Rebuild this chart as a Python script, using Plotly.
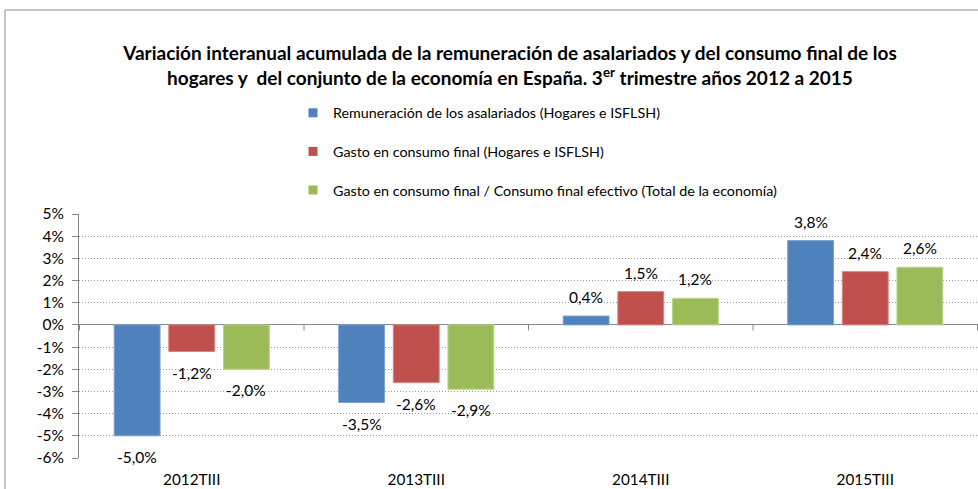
import plotly.graph_objects as go

# Quarters compared (third quarter of each year)
categories = ["2012TIII", "2013TIII", "2014TIII", "2015TIII"]

# Year-on-year cumulative change, in percent
remuneracion = [-5.0, -3.5, 0.4, 3.8]
gasto_hogares = [-1.2, -2.6, 1.5, 2.4]
gasto_total = [-2.0, -2.9, 1.2, 2.6]

series_names = [
    "Remuneración de los asalariados (Hogares e ISFLSH)",
    "Gasto en consumo final (Hogares e ISFLSH)",
    "Gasto en consumo final / Consumo final efectivo (Total de la economía)",
]
series_values = [remuneracion, gasto_hogares, gasto_total]
series_colors = ["#4F81BD", "#C0504D", "#9BBB59"]
edge_colors = ["#7EA3D1", "#D98381", "#BDD48F"]

y_ticks = list(range(-6, 6))
y_tick_labels = [f"{t}%" for t in y_ticks]

FONT = "Lato, 'Open Sans', sans-serif"
W, H = 978, 489
M_L, M_R, M_T, M_B = 79, 0, 214, 31
BARGAP, BARGROUPGAP = 0.27, 0.16
plot_w = W - M_L - M_R
plot_h = H - M_T - M_B

fig = go.Figure()
for name, vals, col, edge in zip(series_names, series_values, series_colors, edge_colors):
    fig.add_trace(go.Bar(
        x=categories, y=vals, name=name, showlegend=False,
        marker=dict(color=col, line=dict(color=edge, width=1)),
    ))
# Legend entries with small square keys
for name, col in zip(series_names, series_colors):
    fig.add_trace(go.Scatter(
        x=[None], y=[None], mode="markers", name=name, legendgroup=name,
        marker=dict(symbol="square", size=9, color=col),
    ))

# Value labels beside the end of each bar
slot = plot_w / len(categories) * (1 - BARGAP) / len(series_values)
annotations = []
for j, vals in enumerate(series_values):
    for cat, v in zip(categories, vals):
        annotations.append(dict(
            x=cat, y=v, xref="x", yref="y",
            text=f"{v:.1f}".replace(".", ",") + "%",
            showarrow=False,
            xshift=(j - (len(series_values) - 1) / 2) * slot,
            yshift=19 if v >= 0 else -21,
            font=dict(family=FONT, size=15.5, color="#000000"),
        ))

# Tick marks on the zero line between categories
shapes = []
for i in range(len(categories) + 1):
    shapes.append(dict(
        type="line", xref="x", yref="y",
        x0=i - 0.5, x1=i - 0.5, y0=0, y1=-0.25,
        line=dict(color="#868686", width=1),
    ))
# Chart frame
shapes.append(dict(
    type="rect", xref="paper", yref="paper",
    x0=(5 - M_L) / plot_w, x1=1.05,
    y0=-0.3, y1=(H - M_B - 10) / plot_h,
    line=dict(color="#8C8C8C", width=1), fillcolor="rgba(0,0,0,0)", layer="below",
))

fig.update_layout(
    width=W, height=H,
    margin=dict(l=M_L, r=M_R, t=M_T, b=M_B, autoexpand=False),
    paper_bgcolor="white", plot_bgcolor="white",
    barmode="group", bargap=BARGAP, bargroupgap=BARGROUPGAP,
    font=dict(family=FONT, size=14, color="#000000"),
    title=dict(
        text="<b>Variación interanual acumulada de la remuneración de asalariados y del consumo final de los<br>"
             "hogares y  del conjunto de la economía en España. 3<sup>er</sup> trimestre años 2012 a 2015</b>",
        x=510 / W, xref="container", xanchor="center",
        y=1 - 60 / H, yref="container", yanchor="middle",
        font=dict(family=FONT, size=19, color="#000000"),
    ),
    legend=dict(
        xref="paper", yref="paper",
        x=(293 - M_L) / plot_w, xanchor="left",
        y=(H - M_B - 97) / plot_h, yanchor="top",
        orientation="v", tracegroupgap=17,
        font=dict(family=FONT, size=14.3, color="#000000"),
        itemwidth=30, bgcolor="rgba(0,0,0,0)",
    ),
    xaxis=dict(
        showgrid=False, showline=False, ticks="",
        tickfont=dict(family=FONT, size=15.3),
        ticklabelstandoff=11, tickangle=0,
    ),
    yaxis=dict(
        range=[-6, 5], tickvals=y_ticks, ticktext=y_tick_labels,
        showgrid=True, gridcolor="#9A9A9A", griddash="1px,2px", gridwidth=1,
        zeroline=True, zerolinecolor="#868686", zerolinewidth=1,
        showline=True, linecolor="#868686", linewidth=1,
        ticks="outside", ticklen=6, tickcolor="#868686",
        ticklabelstandoff=5,
        tickfont=dict(family=FONT, size=15.5),
    ),
    annotations=annotations, shapes=shapes,
)

fig.write_html("out.html")
